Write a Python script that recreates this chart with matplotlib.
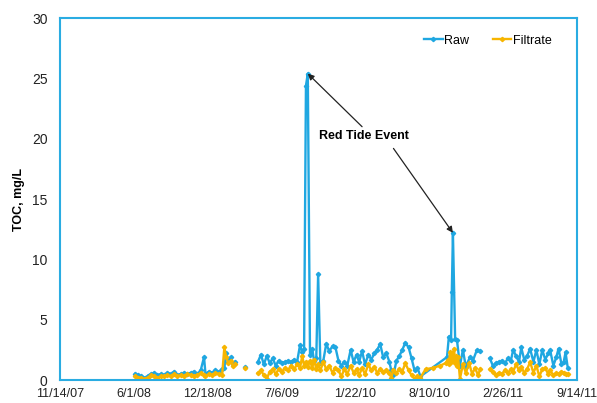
import numpy as np
import pandas as pd
import matplotlib
matplotlib.use('Agg')
import matplotlib.pyplot as plt

plt.rcParams['font.family'] = ['Liberation Sans', 'DejaVu Sans']

nan = np.nan

# 2008 - mid 2010 samples (both series)
dates_a = ['2008-06-04', '2008-06-12', '2008-06-20', '2008-06-30', '2008-07-08', '2008-07-17',
           '2008-07-26', '2008-08-04', '2008-08-13', '2008-08-22', '2008-08-31', '2008-09-09',
           '2008-09-18', '2008-09-27', '2008-10-06', '2008-10-15', '2008-10-24', '2008-11-02',
           '2008-11-11', '2008-11-20', '2008-11-29', '2008-12-08', '2008-12-12', '2008-12-21',
           '2008-12-30', '2009-01-08', '2009-01-17', '2009-01-26', '2009-02-01', '2009-02-06',
           '2009-02-12', '2009-02-18', '2009-02-24', '2009-03-02', '2009-03-15', '2009-03-28',
           '2009-04-15',
           '2009-05-03', '2009-05-11', '2009-05-19', '2009-05-27', '2009-06-04', '2009-06-12',
           '2009-06-20', '2009-06-28', '2009-07-07', '2009-07-15', '2009-07-23', '2009-08-01',
           '2009-08-09', '2009-08-17', '2009-08-25', '2009-08-31', '2009-09-05', '2009-09-10',
           '2009-09-15', '2009-09-21', '2009-09-27', '2009-10-02', '2009-10-08', '2009-10-13',
           '2009-10-19', '2009-10-27', '2009-11-04', '2009-11-12', '2009-11-21', '2009-11-29',
           '2009-12-07', '2009-12-15', '2009-12-23', '2009-12-31', '2010-01-09', '2010-01-17',
           '2010-01-25', '2010-02-01', '2010-02-09', '2010-02-17', '2010-02-26', '2010-03-06',
           '2010-03-14', '2010-03-22', '2010-03-30', '2010-04-07', '2010-04-16', '2010-04-24',
           '2010-04-29', '2010-05-05', '2010-05-13', '2010-05-21', '2010-05-29', '2010-06-06',
           '2010-06-15', '2010-06-23', '2010-07-01', '2010-07-09', '2010-07-17']
raw_a = [0.5, 0.4, 0.3, 0.2, 0.3, 0.5,
         0.6, 0.4, 0.5, 0.4, 0.6, 0.5,
         0.7, 0.4, 0.5, 0.6, 0.5, 0.6,
         0.7, 0.5, 0.8, 1.9, 0.5, 0.7,
         0.6, 0.8, 0.7, 0.9, 1.0, 2.2,
         1.5, 1.9, 1.3, 1.5, nan, 1.1,
         nan,
         1.5, 2.1, 1.3, 2.0, 1.4, 1.8,
         1.2, 1.6, 1.4, 1.5, 1.6, 1.5,
         1.7, 1.5, 2.9, 2.3, 2.6, 24.4,
         25.4, 2.1, 2.6, 1.6, 1.8, 8.8,
         1.4, 1.6, 3.0, 2.4, 2.8, 2.7,
         1.6, 1.2, 1.5, 1.2, 2.5, 1.5,
         2.1, 1.5, 2.4, 1.3, 2.1, 1.7,
         2.2, 2.5, 3.0, 1.9, 2.2, 1.5,
         0.8, 0.4, 1.6, 2.0, 2.5, 3.1,
         2.7, 1.8, 0.8, 1.0, 0.3]
filt_a = [0.3, 0.2, 0.2, 0.1, 0.2, 0.4,
          0.3, 0.2, 0.3, 0.3, 0.4, 0.3,
          0.5, 0.3, 0.4, 0.3, 0.5, 0.4,
          0.3, 0.4, 0.6, 0.4, 0.3, 0.5,
          0.4, 0.6, 0.5, 0.4, 2.7, 1.9,
          1.4, 1.6, 1.2, 1.3, nan, 1.0,
          nan,
          0.6, 0.8, 0.4, 0.1, 0.7, 0.9,
          0.5, 0.9, 0.7, 1.0, 0.8, 1.2,
          0.9, 1.3, 1.0, 2.0, 1.2, 1.5,
          1.1, 1.6, 1.0, 1.7, 0.9, 1.3,
          0.8, 1.5, 0.9, 1.2, 0.6, 1.0,
          0.8, 0.3, 0.9, 0.5, 1.2, 0.6,
          0.9, 0.4, 1.0, 0.5, 1.3, 0.8,
          1.1, 0.6, 0.9, 0.7, 0.8, 0.6,
          0.2, 0.8, 0.6, 0.9, 0.7, 1.4,
          0.8, 0.4, 0.1, 0.3, 0.2]

# second red tide period
raw_event_dates = ['2010-09-27', '2010-10-02', '2010-10-08', '2010-10-10', '2010-10-13',
                   '2010-10-19', '2010-10-24', '2010-11-01', '2010-11-09', '2010-11-17',
                   '2010-11-28', '2010-12-06', '2010-12-17', '2010-12-26']
raw_event = [1.9, 3.6, 3.3, 7.3, 12.2, 3.4, 3.3, 1.2, 2.5, 1.1, 1.9, 1.6, 2.5, 2.4]
filt_event_dates = ['2010-07-31', '2010-08-19', '2010-09-09', '2010-09-23', '2010-09-30',
                    '2010-10-02', '2010-10-05', '2010-10-08', '2010-10-10', '2010-10-13',
                    '2010-10-16', '2010-10-19', '2010-10-22', '2010-10-24', '2010-10-27',
                    '2010-11-01', '2010-11-09', '2010-11-17', '2010-11-26', '2010-12-04',
                    '2010-12-12', '2010-12-20', '2010-12-26']
filt_event = [0.9, 1.0, 1.2, 1.4, 1.7, 1.3, 2.3, 1.5, 2.2, 1.6, 2.6, 1.4, 2.0, 1.2, 1.9,
              0.1, 1.3, 0.6, 1.4, 0.5, 1.0, 0.4, 0.9]

# 2011 samples (first row is the data gap)
dates_c = ['2011-01-10', '2011-01-21', '2011-01-29', '2011-02-06', '2011-02-14', '2011-02-22',
           '2011-03-03', '2011-03-11', '2011-03-19', '2011-03-25', '2011-04-02', '2011-04-10',
           '2011-04-16', '2011-04-24', '2011-05-02', '2011-05-10', '2011-05-19', '2011-05-27',
           '2011-06-04', '2011-06-12', '2011-06-20', '2011-06-28', '2011-07-03', '2011-07-12',
           '2011-07-20', '2011-07-26', '2011-08-03', '2011-08-09', '2011-08-14', '2011-08-20']
raw_c = [nan, 1.8, 1.2, 1.4, 1.5, 1.6,
         1.4, 1.8, 1.6, 2.5, 2.0, 1.5,
         2.7, 1.7, 2.0, 2.6, 1.5, 2.5,
         1.3, 2.5, 1.7, 2.2, 2.5, 1.2,
         1.9, 2.6, 1.3, 1.5, 2.3, 1.0]
filt_c = [nan, 0.9, 0.7, 0.4, 0.6, 0.5,
          0.8, 0.6, 0.9, 0.7, 1.3, 0.8,
          1.1, 0.6, 0.9, 1.5, 0.6, 1.2,
          0.3, 0.9, 1.0, 0.5, 0.8, 0.4,
          0.6, 0.5, 0.7, 0.6, 0.5, 0.5]

tick_dates = ['2007-11-14', '2008-06-01', '2008-12-18', '2009-07-06',
              '2010-01-22', '2010-08-10', '2011-02-26', '2011-09-14']
yticks = [0, 5, 10, 15, 20, 25, 30]

raw_dates = pd.to_datetime(dates_a + raw_event_dates + dates_c)
raw = np.array(raw_a + raw_event + raw_c)
filt_dates = pd.to_datetime(dates_a + filt_event_dates + dates_c)
filt = np.array(filt_a + filt_event + filt_c)

blue = '#1FA7E1'
gold = '#F7B500'
frame = '#2AACE2'

fig = plt.figure(figsize=(5.97, 4.03), dpi=100)
ax = fig.add_axes([0.1005, 0.057, 0.866, 0.898])

ax.plot(raw_dates, raw, color=blue, lw=1.7, marker='D', ms=2.2, label='Raw')
ax.plot(filt_dates, filt, color=gold, lw=1.7, marker='D', ms=2.2, label='Filtrate')

ticks = pd.to_datetime(tick_dates)
ax.set_xlim(ticks[0], ticks[-1])
ax.set_xticks(ticks)
ax.set_xticklabels([f'{d.month}/{d.day}/{d:%y}' for d in ticks])
ax.set_ylim(0, 30)
ax.set_yticks(yticks)
ax.tick_params(length=0, colors='#222222')
ax.tick_params(axis='y', labelsize=10, pad=9)
ax.tick_params(axis='x', labelsize=9, pad=6)

for s in ax.spines.values():
    s.set_color(frame)
    s.set_linewidth(1.5)

ax.set_ylabel('TOC, mg/L', fontsize=9, fontweight='bold', labelpad=5)

# annotation pointing to the two peaks
i1 = np.nanargmax(np.where(raw_dates.year == 2009, raw, nan))
i2 = np.nanargmax(np.where(raw_dates.year == 2010, raw, nan))
ax.text(pd.Timestamp('2010-02-14'), 20.2, 'Red Tide Event', fontsize=9,
        fontweight='bold', ha='center', va='center')
arrow = dict(arrowstyle='-|>', color='#222222', lw=0.9, mutation_scale=9, shrinkA=0, shrinkB=0)
ax.annotate('', xy=(raw_dates[i1], raw[i1]), xytext=(pd.Timestamp('2010-02-09'), 21.0),
            arrowprops=arrow)
ax.annotate('', xy=(raw_dates[i2], raw[i2]), xytext=(pd.Timestamp('2010-05-05'), 19.2),
            arrowprops=arrow)

ax.legend(loc='upper right', bbox_to_anchor=(0.972, 0.985), ncol=2, frameon=False,
          fontsize=9, handlelength=1.5, handletextpad=0.1, columnspacing=1.9)

fig.savefig('out.png', dpi=100)
